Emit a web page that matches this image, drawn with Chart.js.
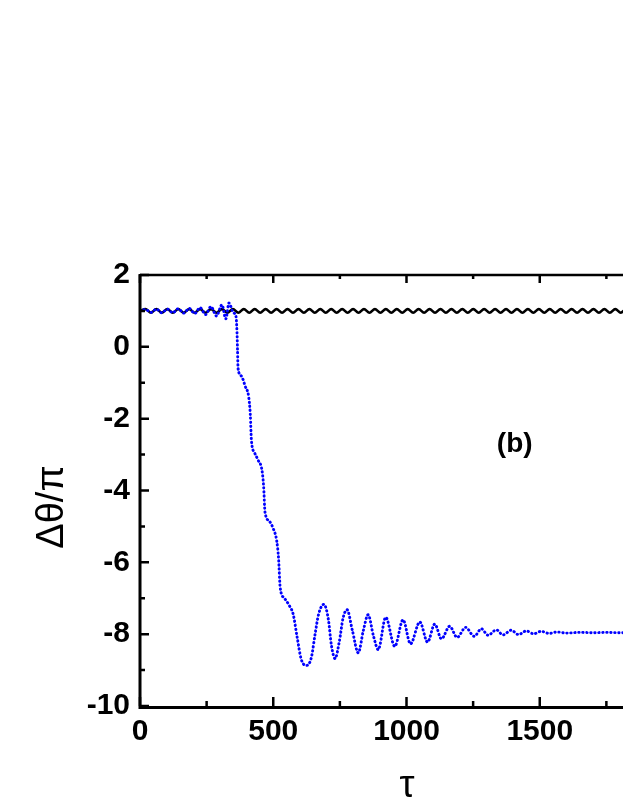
<!DOCTYPE html>
<html>
<head>
<meta charset="utf-8">
<script src="https://cdn.jsdelivr.net/npm/chart.js@4.4.1/dist/chart.umd.min.js"></script>
<style>
html,body{margin:0;padding:0;background:#fff;overflow:hidden}
</style>
</head>
<body>
<canvas id="grafico" width="760" height="806"></canvas>
<script>
// --- Datos (b) ---
var tauNegro=[0,20.5,41,61.5,82,102.5,123,143.5,164,184.5,205,225.5,246,266.5,287,307.5,328,348.5,369,389.5,
  410,430.5,451,471.5,492,512.5,533,553.5,574,594.5,615,635.5,656,676.5,697,717.5,738,758.5,779,799.5,
  820,840.5,861,881.5,902,922.5,943,963.5,984,1004.5,1025,1045.5,1066,1086.5,1107,1127.5,1148,1168.5,1189,1209.5,
  1230,1250.5,1271,1291.5,1312,1332.5,1353,1373.5,1394,1414.5,1435,1455.5,1476,1496.5,1517,1537.5,1558,1578.5,1599,1619.5,
  1640,1660.5,1681,1701.5,1722,1742.5,1763,1783.5,1804,1824.5,1845];
var valNegro=[1.0,1.05,0.95,1.05,0.95,1.05,0.95,1.05,0.95,1.05,0.95,1.05,0.95,1.05,0.95,1.05,0.95,1.05,0.95,1.05,
  0.95,1.05,0.95,1.05,0.95,1.05,0.95,1.05,0.95,1.05,0.95,1.05,0.95,1.05,0.95,1.05,0.95,1.05,0.95,1.05,
  0.95,1.05,0.95,1.05,0.95,1.05,0.95,1.05,0.95,1.05,0.95,1.05,0.95,1.05,0.95,1.05,0.95,1.05,0.95,1.05,
  0.95,1.05,0.95,1.05,0.95,1.05,0.95,1.05,0.95,1.05,0.95,1.05,0.95,1.05,0.95,1.05,0.95,1.05,0.95,1.05,
  0.95,1.05,0.95,1.05,0.95,1.05,0.95,1.05,0.95,1.05,0.95];

var tauAzul=[0,20.5,41,61.5,82,102.5,123,143.5,164,184.5,205,225.5,246,266.5,287,307.5,322,334,350,360,364,366,368,
  380,395,408,414,418,430,443,458,464,469,485,500,513,520,526,542,560,575,590,605,625,643,657,670,690,
  707,718,732,748,762,777,797,819,838,856,876,894,922,956,987,1015,1050,1079,1106,1131,1162,1190,
  1222,1254,1281,1306,1337,1362,1393,1420,1450,1477,1505,1535,1565,1600,1650,1700,1750,1800,1850];
var valAzul=[1.0,1.04,0.96,1.05,0.95,1.05,0.95,1.06,0.94,1.07,0.93,1.09,0.9,1.12,0.86,1.17,0.78,1.22,0.95,0.85,0.4,-0.1,-0.6,
  -0.81,-1.1,-1.4,-1.9,-2.6,-2.95,-3.15,-3.45,-3.9,-4.6,-4.85,-5.06,-5.4,-5.9,-6.7,-7.0,-7.2,-7.45,-8.1,-8.7,-8.87,-8.65,-8.0,-7.45,-7.17,
  -7.6,-8.3,-8.68,-8.2,-7.55,-7.32,-7.9,-8.52,-7.9,-7.46,-8.05,-8.43,-7.53,-8.34,-7.6,-8.27,-7.66,-8.22,-7.72,-8.13,-7.78,-8.09,
  -7.81,-8.06,-7.85,-8.03,-7.88,-8.02,-7.89,-8.01,-7.91,-7.99,-7.92,-7.98,-7.94,-7.97,-7.95,-7.96,-7.95,-7.96,-7.96];

var ticksX=[0,500,1000,1500,2000];
var ticksY=[-10,-8,-6,-4,-2,0,2];
var menoresX=[250,750,1250,1750];
var menoresY=[-9,-7,-5,-3,-1,1];

var fuenteEje={family:'Liberation Sans',size:30,weight:'bold'};

function puntos(ts,vs){return ts.map(function(t,i){return{x:t,y:vs[i]};});}
function sinComas(v){return String(v);}

// ejes con marcas hacia dentro, marco superior, titulos y etiqueta (b)
var pluginEjes={id:'ejes',afterDraw:function(ch){
  var c=ch.ctx,a=ch.chartArea,sx=ch.scales.x,sy=ch.scales.y;
  c.save();
  c.strokeStyle='#000';c.lineCap='butt';
  c.lineWidth=3;
  c.beginPath();c.moveTo(a.left,a.top-1);c.lineTo(a.left,a.bottom+1.5);c.lineTo(a.right,a.bottom+1.5);c.stroke();
  c.lineWidth=2.5;
  c.beginPath();c.moveTo(a.left,a.top);c.lineTo(a.right,a.top);c.stroke();
  c.lineWidth=2.5;
  c.beginPath();
  ticksX.forEach(function(t){var px=sx.getPixelForValue(t);c.moveTo(px,a.bottom);c.lineTo(px,a.bottom-9);c.moveTo(px,a.top);c.lineTo(px,a.top+8);});
  menoresX.forEach(function(t){var px=sx.getPixelForValue(t);c.moveTo(px,a.bottom);c.lineTo(px,a.bottom-5);c.moveTo(px,a.top);c.lineTo(px,a.top+4);});
  ticksY.forEach(function(v){var py=sy.getPixelForValue(v);c.moveTo(a.left,py);c.lineTo(a.left+9,py);});
  menoresY.forEach(function(v){var py=sy.getPixelForValue(v);c.moveTo(a.left,py);c.lineTo(a.left+5,py);});
  c.stroke();
  // textos
  c.fillStyle='#000';c.textAlign='center';c.textBaseline='middle';
  c.font='bold 28px "Liberation Sans"';
  c.fillText('(b)',sx.getPixelForValue(1406),sy.getPixelForValue(-2.7));
  c.font='38px "Liberation Sans"';
  c.fillText('\u03c4',407,787);
  c.translate(53,507);c.rotate(-Math.PI/2);
  c.fillText('\u0394\u03b8/\u03c0',0,0);
  c.restore();
}};

new Chart(document.getElementById('grafico'),{
  type:'line',
  data:{datasets:[
    {label:'azul',data:puntos(tauAzul,valAzul),borderColor:'#0000ff',borderWidth:2.9,borderDash:[0.4,3.6],borderCapStyle:'round',
      pointRadius:0,fill:false,cubicInterpolationMode:'monotone'},
    {label:'negro',data:puntos(tauNegro,valNegro),borderColor:'#000',borderWidth:2.6,pointRadius:0,fill:false,cubicInterpolationMode:'monotone'}
  ]},
  options:{
    responsive:false,animation:false,devicePixelRatio:1,
    layout:{padding:{left:0,right:87,top:275,bottom:0}},
    plugins:{legend:{display:false},tooltip:{enabled:false}},
    scales:{
      x:{type:'linear',min:0,max:2000,grid:{display:false,drawTicks:false},border:{display:false},
        afterFit:function(s){s.height=100;},
        afterBuildTicks:function(s){s.ticks=ticksX.map(function(v){return{value:v};});},
        ticks:{color:'#000',font:fuenteEje,padding:8,maxRotation:0,autoSkip:false,callback:sinComas}},
      y:{type:'linear',min:-10,max:2,grid:{display:false,drawTicks:false},border:{display:false},
        afterFit:function(s){s.width=140;},
        afterBuildTicks:function(s){s.ticks=ticksY.map(function(v){return{value:v};});},
        ticks:{color:'#000',font:fuenteEje,padding:10,autoSkip:false,callback:sinComas}}
    }
  },
  plugins:[pluginEjes]
});
</script>
</body>
</html>
